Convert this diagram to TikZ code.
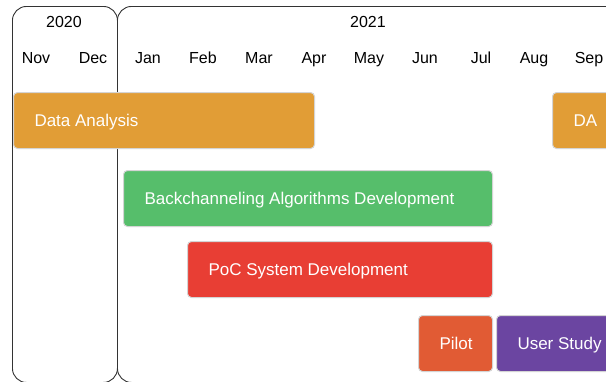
\documentclass[tikz,border=0pt]{standalone}
\usepackage{fontspec}
\setmainfont{Liberation Sans}
\definecolor{frameline}{HTML}{333333}
\definecolor{barborder}{HTML}{D4D4D4}
\definecolor{daorange}{HTML}{E19D36}
\definecolor{bagreen}{HTML}{56BE6B}
\definecolor{pocred}{HTML}{E83E34}
\definecolor{pilotorange}{HTML}{E15B34}
\definecolor{studypurple}{HTML}{6B45A1}
\tikzset{
  yearbox/.style={draw=frameline, line width=0.9pt, rounded corners=14pt, rectangle, inner sep=0pt},
  lbl/.style={font=\fontsize{16}{19}\selectfont, text=black, inner sep=0pt,
    text height=12pt, text depth=1.5pt},
  bar/.style={draw=barborder, line width=1pt, rounded corners=4pt, rectangle,
    minimum height=56pt, inner xsep=21pt, inner ysep=0pt, anchor=north west,
    text height=12pt, text depth=1pt,
    text=white, font=\fontsize{17}{19}\selectfont},
}
\begin{document}
\begin{tikzpicture}[x=1pt,y=-1pt]
  \clip (0,0) rectangle (606,381);
  \fill[white] (0,0) rectangle (606,381);

  % year frames
  \node[yearbox, minimum width=105pt, minimum height=376pt, anchor=north west] (y2020) at (12,6) {};
  \node[yearbox, minimum width=505pt, minimum height=376pt, anchor=north west] (y2021) at (117,6) {};
  \node[lbl] (t2020) at (64,22) {2020};
  \node[lbl] (t2021) at (368,22) {2021};

  % months
  \foreach \m/\x in {Nov/36, Dec/93, Jan/148, Feb/203, Mar/259, Apr/314, May/369, Jun/425, Jul/481, Aug/534, Sep/589}
    \node[lbl] (m\m) at (\x,58) {\m};

  % tasks (bar width = text width + 42)
  \node[bar, fill=daorange, minimum width=301pt] (da1) at (13,92) {\makebox[259pt][l]{Data Analysis}};
  \node[bar, fill=daorange, minimum width=102pt] (da2) at (552,92) {\makebox[60pt][l]{DA}};
  \node[bar, fill=bagreen, minimum width=369pt] (bad) at (123,170) {\makebox[327pt][l]{Backchanneling Algorithms Development}};
  \node[bar, fill=pocred, minimum width=305pt] (poc) at (187,241) {\makebox[263pt][l]{PoC System Development}};
  \node[bar, fill=pilotorange, minimum width=74pt] (pilot) at (418,315) {\makebox[32pt][l]{Pilot}};
  \node[bar, fill=studypurple, minimum width=142pt] (study) at (496,315) {\makebox[100pt][l]{User Study}};
\end{tikzpicture}
\end{document}
